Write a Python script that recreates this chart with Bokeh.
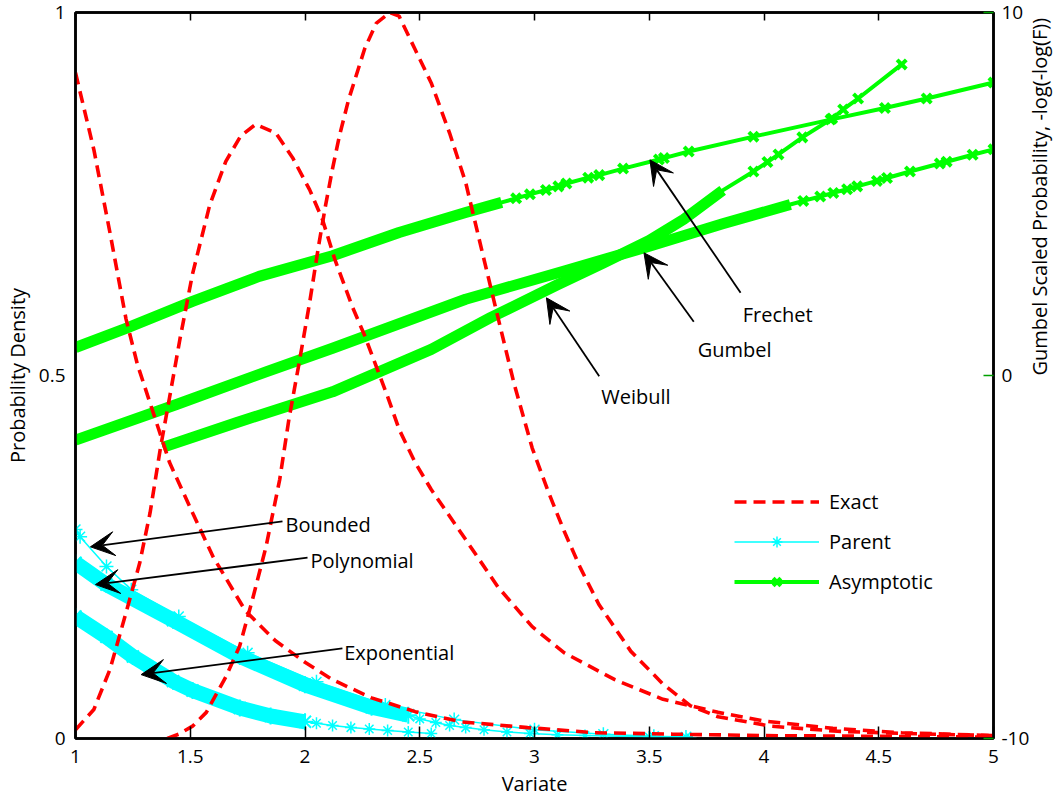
import math
from bokeh.plotting import figure
from bokeh.models import (Range1d, LinearAxis, FixedTicker, Arrow, VeeHead, Label,
                          Legend, LegendItem, CustomJSTickFormatter)
from bokeh.embed import file_html
from bokeh.resources import INLINE

# ---------------- data ----------------
x_ticks = [1, 1.5, 2, 2.5, 3, 3.5, 4, 4.5, 5]
x_tick_labels = ["1", "1.5", "2", "2.5", "3", "3.5", "4", "4.5", "5"]
left_ticks = [0, 0.5, 1]
left_tick_labels = ["0", "0.5", "1"]
right_ticks = [-10, 0, 10]
right_tick_labels = ["-10", "0", "10"]
right_title = "Gumbel Scaled Probability, -log(-log(F))"

# Exact densities (left axis)
exact1_x = [1.0, 1.08, 1.15, 1.22, 1.27, 1.325, 1.41, 1.51, 1.6, 1.74, 1.87, 2.0, 2.12,
            2.29, 2.48, 2.68, 2.97, 3.26, 3.6, 4.0, 4.5, 5.0]
exact1_y = [0.917, 0.811, 0.697, 0.578, 0.515, 0.462, 0.38, 0.311, 0.25, 0.176, 0.135,
            0.105, 0.081, 0.056, 0.037, 0.023, 0.015, 0.008, 0.006, 0.004, 0.003, 0.002]

exact2_x = [1.0, 1.08, 1.15, 1.22, 1.28, 1.325, 1.37, 1.41, 1.455, 1.51, 1.585, 1.655,
            1.72, 1.785, 1.873, 1.946, 2.02, 2.076, 2.13, 2.206, 2.26, 2.36, 2.41, 2.48,
            2.55, 2.70, 2.84, 2.99, 3.13, 3.35, 3.56, 3.8, 4.0, 4.3, 4.6, 5.0]
exact2_y = [0.012, 0.04, 0.095, 0.173, 0.242, 0.311, 0.40, 0.47, 0.55, 0.64, 0.735, 0.795,
            0.83, 0.846, 0.834, 0.80, 0.756, 0.715, 0.66, 0.595, 0.555, 0.471, 0.426, 0.38,
            0.343, 0.274, 0.209, 0.154, 0.118, 0.081, 0.054, 0.036, 0.024, 0.014, 0.008, 0.004]

exact3_x = [1.40, 1.45, 1.51, 1.57, 1.655, 1.715, 1.77, 1.83, 1.89, 1.93, 1.976, 2.02,
            2.06, 2.09, 2.12, 2.15, 2.19, 2.26, 2.31, 2.37, 2.41, 2.48, 2.55, 2.63, 2.70,
            2.77, 2.84, 2.91, 2.99, 3.06, 3.13, 3.20, 3.28, 3.42, 3.56, 3.68, 3.8, 4.03,
            4.32, 4.6, 5.0]
exact3_y = [0.0, 0.006, 0.017, 0.036, 0.085, 0.127, 0.19, 0.264, 0.357, 0.44, 0.52, 0.60,
            0.68, 0.735, 0.785, 0.83, 0.88, 0.95, 0.985, 1.0, 0.995, 0.949, 0.903, 0.834,
            0.766, 0.673, 0.581, 0.49, 0.40, 0.34, 0.285, 0.235, 0.185, 0.12, 0.075, 0.045,
            0.03, 0.017, 0.01, 0.007, 0.004]

# Parent densities (left axis)
bounded_x = [1.0, 1.02, 1.135, 1.243, 1.45, 1.75, 2.05, 2.35, 2.65, 3.0, 3.3, 3.52, 3.66]
bounded_y = [0.288, 0.278, 0.237, 0.205, 0.168, 0.118, 0.078, 0.046, 0.026, 0.012, 0.006,
             0.003, 0.002]

poly_band_x = [1.0, 1.135, 1.425, 1.716, 2.0, 2.29, 2.45]
poly_band_y = [0.242, 0.212, 0.163, 0.113, 0.074, 0.043, 0.032]
poly_mark_x = [2.5, 2.57, 2.63, 2.70, 2.78, 2.88, 2.98, 3.1, 3.22, 3.5, 3.68]
poly_mark_y = [0.027, 0.022, 0.018, 0.015, 0.012, 0.009, 0.007, 0.005, 0.004, 0.002, 0.001]

expo_band_x = [1.0, 1.135, 1.25, 1.425, 1.51, 1.716, 1.85, 2.0]
expo_band_y = [0.168, 0.14, 0.113, 0.079, 0.066, 0.042, 0.031, 0.023]
expo_mark_x = [2.05, 2.12, 2.2, 2.28, 2.36, 2.45, 2.55]
expo_mark_y = [0.021, 0.018, 0.015, 0.013, 0.011, 0.009, 0.007]

# Asymptotic, Gumbel scaled (right axis)
frechet_band_x = [1.0, 1.22, 1.51, 1.80, 2.12, 2.41, 2.70, 2.857]
frechet_band_v = [0.77, 1.3, 2.04, 2.73, 3.3, 3.94, 4.49, 4.77]
frechet_mark_x = [2.92, 2.98, 3.05, 3.104, 3.139, 3.234, 3.282, 3.386, 3.542, 3.564,
                  3.672, 3.954, 4.29, 4.527, 4.709, 5.0]
frechet_mark_v = [4.88, 4.99, 5.11, 5.21, 5.29, 5.45, 5.52, 5.70, 5.95, 5.99, 6.17, 6.58,
                  7.05, 7.37, 7.63, 8.07]

gumbel_band_x = [1.0, 1.44, 1.83, 2.12, 2.70, 2.81, 3.13, 3.5, 3.82, 4.115]
gumbel_band_v = [-1.78, -0.8, 0.1, 0.75, 2.1, 2.3, 2.88, 3.56, 4.18, 4.71]
gumbel_mark_x = [4.171, 4.245, 4.302, 4.362, 4.406, 4.492, 4.536, 4.636, 4.766, 4.796,
                 4.909, 5.0]
gumbel_mark_v = [4.81, 4.93, 5.03, 5.13, 5.21, 5.36, 5.44, 5.62, 5.84, 5.89, 6.08, 6.23]

weibull_band_x = [1.38, 1.7, 2.12, 2.55, 2.81, 3.1, 3.3, 3.5, 3.65, 3.82]
weibull_band_v = [-1.98, -1.3, -0.45, 0.72, 1.6, 2.5, 3.1, 3.72, 4.3, 5.1]
weibull_mark_x = [3.954, 4.015, 4.063, 4.167, 4.297, 4.345, 4.41, 4.60]
weibull_mark_v = [5.62, 5.88, 6.09, 6.56, 7.08, 7.33, 7.63, 8.57]

# annotations: text, text x, text y, arrow tail x, y, arrow tip x, y (left-axis units)
annotations = [
    ("Bounded", 1.915, 0.295, 1.902, 0.299, 1.065, 0.264),
    ("Polynomial", 2.024, 0.245, 2.011, 0.249, 1.087, 0.212),
    ("Exponential", 2.171, 0.118, 2.163, 0.124, 1.286, 0.088),
    ("Frechet", 3.907, 0.584, 3.898, 0.614, 3.503, 0.797),
    ("Gumbel", 3.711, 0.536, 3.694, 0.574, 3.477, 0.669),
    ("Weibull", 3.291, 0.471, 3.282, 0.499, 3.052, 0.607),
]

# ---------------- styles ----------------
FONT = "Open Sans"
RED = "#ff0000"
CYAN = "#00ffff"
GREEN = "#00ff00"
TICK_GREEN = "#00a000"
DASH = "12 7"
FW, FH = 918, 726

p = figure(frame_width=FW, frame_height=FH, x_range=Range1d(1, 5), y_range=Range1d(0, 1),
           output_backend="svg", toolbar_location=None,
           min_border_left=70, min_border_top=12, min_border_right=30, min_border_bottom=40,
           background_fill_color="white", border_fill_color="white")
p.extra_y_ranges = {"gumbel": Range1d(-10, 10)}
p.grid.visible = False
p.outline_line_color = "black"
p.outline_line_width = 2.5
p.outline_line_alpha = 1.0

# bottom axis
xa = p.xaxis[0]
xa.ticker = FixedTicker(ticks=x_ticks)
xa.major_label_overrides = dict(zip(x_ticks, x_tick_labels))
xa.major_label_standoff = 11
xa.major_tick_in = 12
xa.axis_label = "Variate"
xa.axis_label_standoff = 4

# left axis
ya = p.yaxis[0]
ya.ticker = FixedTicker(ticks=left_ticks)
ya.major_label_overrides = dict(zip(left_ticks, left_tick_labels))
ya.major_tick_in = 0
ya.axis_label = "Probability Density"
ya.major_label_standoff = 10
ya.axis_label_standoff = 5

# right axis
ra = LinearAxis(y_range_name="gumbel", ticker=FixedTicker(ticks=right_ticks),
                major_label_overrides=dict(zip(right_ticks, right_tick_labels)),
                axis_label=right_title)
ra.major_label_standoff = 8
ra.major_tick_in = 10
ra.axis_label_standoff = 7
ra.axis_label_orientation = math.pi / 2
p.add_layout(ra, "right")

# top axis: inward ticks only
ta = LinearAxis(ticker=FixedTicker(ticks=x_ticks),
                formatter=CustomJSTickFormatter(code="return ''"))
ta.major_tick_in = 8
ta.major_label_standoff = 0
ta.major_label_text_font_size = "1px"
p.add_layout(ta, "above")

for ax in (xa, ya, ra, ta):
    ax.axis_line_color = "black"
    ax.axis_line_width = 2.5
    ax.major_tick_out = 0
    ax.major_tick_line_color = "black"
    ax.major_tick_line_width = 1.5
    ax.minor_tick_line_color = None
ra.major_tick_line_color = TICK_GREEN

for ax in (xa, ya, ra):
    ax.major_label_text_font = FONT
    ax.major_label_text_font_size = "19px"
    ax.major_label_text_color = "black"
    ax.axis_label_text_font = FONT
    ax.axis_label_text_font_size = "20px"
    ax.axis_label_text_font_style = "normal"
    ax.axis_label_text_color = "black"
ra.axis_label_text_align = "center"

# ---- Parent (cyan) ----
for bx, by in ((poly_band_x, poly_band_y), (expo_band_x, expo_band_y)):
    p.line(bx, by, line_color=CYAN, line_width=15, line_join="round")
    p.scatter(bx, by, marker="asterisk", size=17, line_color=CYAN, line_width=2)
p.line(poly_band_x + poly_mark_x, poly_band_y + poly_mark_y, line_color=CYAN, line_width=1.5)
p.line(expo_band_x + expo_mark_x, expo_band_y + expo_mark_y, line_color=CYAN, line_width=1.5)
p.scatter(poly_mark_x, poly_mark_y, marker="asterisk", size=12, line_color=CYAN, line_width=1.5)
p.scatter(expo_mark_x, expo_mark_y, marker="asterisk", size=12, line_color=CYAN, line_width=1.5)
parent_line = p.line(bounded_x, bounded_y, line_color=CYAN, line_width=1.5)
parent_marks = p.scatter(bounded_x, bounded_y, marker="asterisk", size=14, line_color=CYAN,
                         line_width=1.5)

# ---- Asymptotic (green, right axis) ----
asym_line = None
asym_marks = None
for bx, bv, mx, mv in ((frechet_band_x, frechet_band_v, frechet_mark_x, frechet_mark_v),
                       (gumbel_band_x, gumbel_band_v, gumbel_mark_x, gumbel_mark_v),
                       (weibull_band_x, weibull_band_v, weibull_mark_x, weibull_mark_v)):
    p.line(bx, bv, line_color=GREEN, line_width=11, line_join="round",
           y_range_name="gumbel")
    l = p.line(bx + mx, bv + mv, line_color=GREEN, line_width=4, y_range_name="gumbel")
    m = p.scatter(mx, mv, marker="x", size=13, line_color=GREEN, line_width=4,
                  y_range_name="gumbel")
    if asym_line is None:
        asym_line, asym_marks = l, m

# ---- Exact (red dashed) ----
exact_r = None
for ex, ey in ((exact1_x, exact1_y), (exact2_x, exact2_y), (exact3_x, exact3_y)):
    r = p.line(ex, ey, line_color=RED, line_width=3.6, line_dash=DASH)
    if exact_r is None:
        exact_r = r

# ---- annotations ----
for txt, tx, ty, x0, y0, x1, y1 in annotations:
    p.add_layout(Arrow(x_start=x0, y_start=y0, x_end=x1, y_end=y1, line_width=1.8,
                       line_color="black",
                       end=VeeHead(size=24, fill_color="black", line_color="black",
                                   line_width=1)))
    p.add_layout(Label(x=tx, y=ty, text=txt, text_font=FONT, text_font_size="20px",
                       text_baseline="middle", text_align="left", text_color="black"))

legend = Legend(items=[
    LegendItem(label="Exact", renderers=[exact_r]),
    LegendItem(label="Parent", renderers=[parent_line, parent_marks]),
    LegendItem(label="Asymptotic", renderers=[asym_line, asym_marks]),
], location=(659, 143))
legend.border_line_color = None
legend.background_fill_alpha = 0
legend.padding = 0
legend.margin = 0
legend.spacing = 13
legend.glyph_width = 85
legend.glyph_height = 27
legend.label_height = 27
legend.label_standoff = 10
legend.label_text_font = FONT
legend.label_text_font_size = "20px"
legend.label_text_color = "black"
p.add_layout(legend)

open("out.html", "w").write(file_html(p, INLINE))
